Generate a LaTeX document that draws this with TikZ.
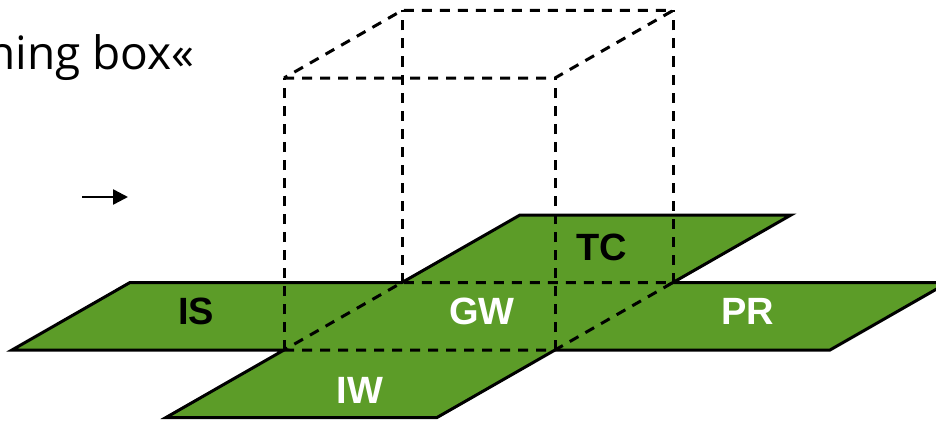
\documentclass[tikz,border=0pt]{standalone}
\usepackage{fontspec}
\setmainfont{Liberation Sans}
\newfontfamily\topfont{Open Sans}
\usetikzlibrary{arrows.meta}
\definecolor{plane}{RGB}{92,156,40}
\tikzset{
  cubeedge/.style={black, line width=3pt, dash pattern=on 10pt off 8pt},
  region/.style={font=\fontsize{38}{40}\selectfont\bfseries, inner sep=0pt},
  planeedge/.style={fill=plane, draw=black, line width=3pt, line join=miter},
}
\begin{document}
\begin{tikzpicture}[x=1pt,y=-1pt]
\useasboundingbox (0,0) rectangle (936,420);
\clip (0,0) rectangle (936,420);
% base coordinates (front-bottom of cube etc.)
\coordinate (A) at (12,350);
\coordinate (FBL) at (284,350);
\coordinate (IWL) at (166,417.5);
\coordinate (IWR) at (437,417.5);
\coordinate (FBR) at (555,350);
\coordinate (PRB) at (830,350);
\coordinate (PRT) at (948,282.5);
\coordinate (BBR) at (673,282.5);
\coordinate (TCR) at (791,215);
\coordinate (TCL) at (520,215);
\coordinate (BBL) at (402,282.5);
\coordinate (IST) at (130,282.5);
% top of cube
\coordinate (FTL) at (284,78);
\coordinate (FTR) at (555,78);
\coordinate (BTL) at (402,10.5);
\coordinate (BTR) at (673,10.5);
% green cross of planes
\draw[planeedge] (A) -- (FBL) -- (IWL) -- (IWR) -- (FBR) -- (PRB) -- (PRT)
  -- (BBR) -- (TCR) -- (TCL) -- (BBL) -- (IST) -- cycle;
% dashed cube
\draw[cubeedge] (FBL) -- (FBR) -- (BBR) -- (BBL) -- cycle;
\draw[cubeedge] (FTL) -- (FTR) -- (BTR) -- (BTL) -- cycle;
\draw[cubeedge] (FBL) -- (FTL);
\draw[cubeedge] (FBR) -- (FTR);
\draw[cubeedge] (BBL) -- (BTL);
\draw[cubeedge] (BBR) -- (BTR);
% labels
\node[region, text=black] (IS) at (196,311) {IS};
\node[region, text=white] (GW) at (482,311) {GW};
\node[region, text=black] (TC) at (602,247) {TC};
\node[region, text=white] (PR) at (748,311) {PR};
\node[region, text=white] (IW) at (360,390) {IW};
% top-left text and arrow
\node[anchor=base east, inner sep=0pt, font=\topfont\fontsize{46}{50}\selectfont] (title) at (195,70) {hing box«};
\coordinate (arrS) at (82,197);
\coordinate (arrE) at (128,197);
\draw[line width=2.5pt, -{Triangle[length=15pt,width=15pt]}] (arrS) -- (arrE);
\end{tikzpicture}
\end{document}
